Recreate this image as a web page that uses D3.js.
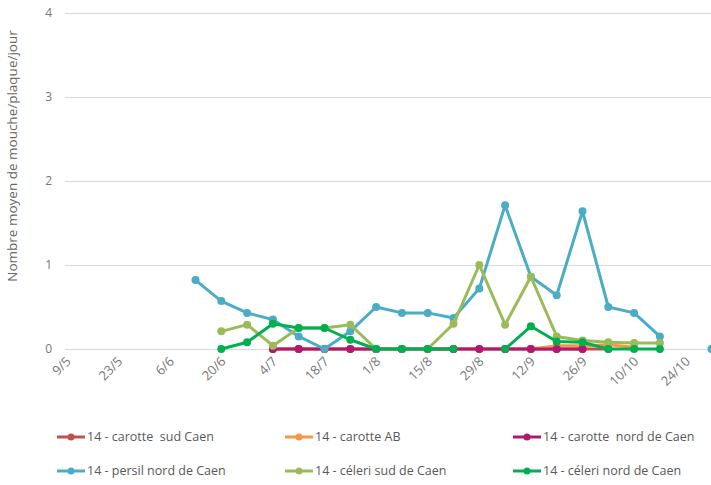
<!DOCTYPE html>
<html>
<head>
<meta charset="utf-8">
<script src="https://cdn.jsdelivr.net/npm/d3@7"></script>
<style>
body { margin: 0; background: #fff; }
svg { font-family: "Open Sans", sans-serif; }
</style>
</head>
<body>
<script>
// weekly sampling dates
var dates = ["9/5","16/5","23/5","30/5","6/6","13/6","20/6","27/6","4/7","11/7","18/7","25/7","1/8","8/8","15/8","22/8","29/8","5/9","12/9","19/9","26/9","3/10","10/10","17/10","24/10","31/10"];
var tickLabels = ["9/5","23/5","6/6","20/6","4/7","18/7","1/8","15/8","29/8","12/9","26/9","10/10","24/10"];
var yTicks = [0, 1, 2, 3, 4];

var n = null;
var carotteSud  = [n,n,n,n,n,n,n,n,0,0,0,0,0,0,0,0,0,0,0,0,0,0,n,n,n,n];
var carotteAB   = [n,n,n,n,n,n,n,n,n,n,n,n,n,n,n,n,n,n,0,0.04,0.04,0.05,0.02,n,n,n];
var carotteNord = [n,n,n,n,n,n,n,n,0,0,0,0,0,0,0,0,0,0,0,0,0,n,n,n,n,n];
var persilNord  = [n,n,n,n,n,0.82,0.57,0.43,0.35,0.15,0,0.21,0.50,0.43,0.43,0.37,0.72,1.71,0.86,0.64,1.64,0.50,0.43,0.15,n,0];
var celeriSud   = [n,n,n,n,n,n,0.21,0.29,0.04,0.25,0.25,0.29,0,0,0,0.30,1.0,0.29,0.86,0.15,0.10,0.08,0.07,0.07,n,n];
var celeriNord  = [n,n,n,n,n,n,0,0.08,0.30,0.25,0.25,0.11,0,0,0,0,n,0,0.27,0.09,0.08,0,0,0,n,n];

var series = [
  {name: "14 - carotte  sud Caen", color: "#c0504d", values: carotteSud},
  {name: "14 - carotte AB", color: "#f79646", values: carotteAB},
  {name: "14 - carotte  nord de Caen", color: "#b3186d", values: carotteNord},
  {name: "14 - persil nord de Caen", color: "#4bacc6", values: persilNord},
  {name: "14 - céleri sud de Caen", color: "#9bbb59", values: celeriSud},
  {name: "14 - céleri nord de Caen", color: "#00b050", values: celeriNord}
];

var width = 711, height = 485;
var svg = d3.select("body").append("svg")
  .attr("width", width).attr("height", height);

var x = d3.scalePoint().domain(dates).range([66.5, 711.5]);
var y = d3.scaleLinear().domain([0, 4]).range([349, 13]);

// grid
svg.append("g").selectAll("line").data(yTicks).enter().append("line")
  .attr("x1", 65).attr("x2", width)
  .attr("y1", function(d){ return y(d) + 0.5; })
  .attr("y2", function(d){ return y(d) + 0.5; })
  .attr("stroke", "#d9d9d9").attr("stroke-width", 1);

// y axis labels
svg.append("g").selectAll("text").data(yTicks).enter().append("text")
  .attr("x", 52).attr("y", function(d){ return y(d); })
  .attr("dy", "0.35em").attr("text-anchor", "end")
  .attr("font-size", 12).attr("fill", "#777")
  .text(function(d){ return d; });

svg.append("text")
  .attr("transform", "translate(17,156) rotate(-90)")
  .attr("text-anchor", "middle")
  .attr("font-size", 13.5).attr("fill", "#666")
  .text("Nombre moyen de mouche/plaque/jour");

// x axis labels
svg.append("g").selectAll("text").data(tickLabels).enter().append("text")
  .attr("transform", function(d){ return "translate(" + (x(d) + 2) + ",359) rotate(-45)"; })
  .attr("text-anchor", "end").attr("dy", "0.35em")
  .attr("font-size", 13).attr("fill", "#777")
  .text(function(d){ return d; });

var line = d3.line()
  .defined(function(d){ return d.v !== null; })
  .x(function(d){ return x(d.date); })
  .y(function(d){ return y(d.v); });

series.forEach(function(s){
  var pts = s.values.map(function(v, i){ return {date: dates[i], v: v}; });
  var g = svg.append("g");
  g.append("path").datum(pts)
    .attr("d", line)
    .attr("fill", "none").attr("stroke", s.color)
    .attr("stroke-width", 3).attr("stroke-linejoin", "round");
  g.selectAll("circle").data(pts.filter(function(d){ return d.v !== null; }))
    .enter().append("circle")
    .attr("cx", function(d){ return x(d.date); })
    .attr("cy", function(d){ return y(d.v); })
    .attr("r", 4).attr("fill", s.color);
});

// legend
var legend = svg.append("g").selectAll("g").data(series).enter().append("g")
  .attr("transform", function(d, i){
    return "translate(" + (57 + (i % 3) * 228) + "," + (437 + Math.floor(i / 3) * 34) + ")";
  });
legend.append("line").attr("x1", 0).attr("x2", 28)
  .attr("stroke", function(d){ return d.color; }).attr("stroke-width", 3);
legend.append("circle").attr("cx", 14).attr("r", 3.5)
  .attr("fill", function(d){ return d.color; });
legend.append("text").attr("x", 30).attr("dy", "0.35em")
  .attr("font-size", 12.5).attr("fill", "#595959")
  .style("white-space", "pre")
  .text(function(d){ return d.name; });
</script>
</body>
</html>
